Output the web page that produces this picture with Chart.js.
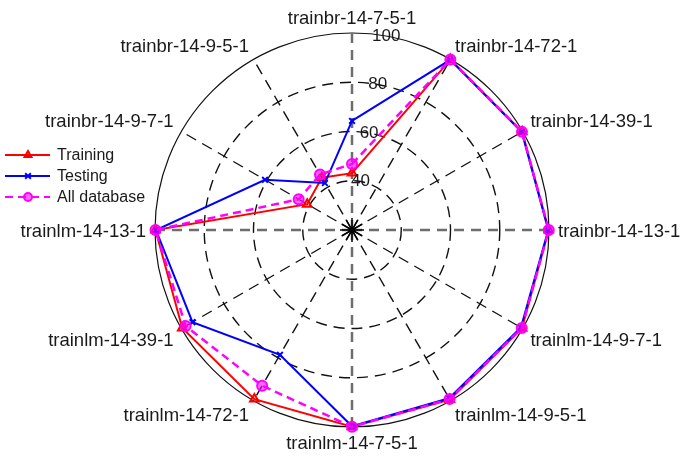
<!DOCTYPE html>
<html>
<head>
<meta charset="utf-8">
<script src="https://cdn.jsdelivr.net/npm/chart.js@4"></script>
<style>
  html, body { margin: 0; padding: 0; background: #fff; }
</style>
</head>
<body>
<canvas id="myChart" width="685" height="460"></canvas>
<script>
const ctx = document.getElementById("myChart");

// categorias, en sentido horario desde arriba
const etiquetas = [
  "trainbr-14-7-5-1", "trainbr-14-72-1", "trainbr-14-39-1", "trainbr-14-13-1",
  "trainlm-14-9-7-1", "trainlm-14-9-5-1", "trainlm-14-7-5-1", "trainlm-14-72-1",
  "trainlm-14-39-1", "trainlm-14-13-1", "trainbr-14-9-7-1", "trainbr-14-9-5-1",
];
const training = [43.1, 99.9, 99.8, 99.9, 99.7, 99.5, 99.9, 99.3, 99.6, 99.8, 41.0, 44.5];
const testing = [64.3, 99.8, 99.6, 99.7, 99.2, 98.9, 99.7, 78.5, 94.8, 99.6, 60.8, 42.0];
const allDatabase = [46.8, 99.9, 99.7, 99.9, 99.6, 99.3, 99.9, 93.0, 98.0, 99.8, 45.0, 46.0];
const ticksR = [40, 60, 80, 100];
const rMin = 20;
const rMax = 100;

const fuente = '"Liberation Sans", Arial, Helvetica, sans-serif';

// estrella negra del centro
const centroPlugin = {
  id: "centro",
  beforeDatasetsDraw(chart) {
    const r = chart.scales.r;
    const c = chart.ctx;
    c.save();
    c.strokeStyle = "#000";
    c.lineWidth = 1.5;
    for (let i = 0; i < 12; i++) {
      const a = (i * 30 * Math.PI) / 180;
      c.beginPath();
      c.moveTo(r.xCenter, r.yCenter);
      c.lineTo(r.xCenter + 12 * Math.sin(a), r.yCenter - 12 * Math.cos(a));
      c.stroke();
    }
    c.fillStyle = "#000";
    c.beginPath();
    c.arc(r.xCenter, r.yCenter, 3, 0, Math.PI * 2);
    c.fill();
    c.restore();
  },
};

// etiquetas de puntos, ticks y leyenda
const textosPlugin = {
  id: "textos",
  afterDraw(chart) {
    const r = chart.scales.r;
    const c = chart.ctx;
    c.save();
    c.fillStyle = "#1a1a1a";
    c.font = "18.5px " + fuente;
    c.textBaseline = "alphabetic";
    etiquetas.forEach((txt, i) => {
      const p = r.getPointPosition(i, r.drawingArea + 9);
      const ang = Math.round((i * 360) / etiquetas.length);
      let align = "center";
      if (ang > 0 && ang < 180) align = "left";
      if (ang > 180) align = "right";
      let y = p.y;
      if (ang === 90 || ang === 270) y += 6.5;
      else if (ang > 90 && ang < 270) y += 13;
      c.textAlign = align;
      c.fillText(txt, p.x, y);
    });

    // valores radiales, un poco girados como en matlab
    c.font = "17px " + fuente;
    c.textAlign = "center";
    c.textBaseline = "middle";
    const giro = (10 * Math.PI) / 180;
    ticksR.forEach((v) => {
      const d = r.getDistanceFromCenterForValue(v);
      c.fillText(String(v), r.xCenter + d * Math.sin(giro), r.yCenter - d * Math.cos(giro));
    });

    // leyenda
    c.font = "16px " + fuente;
    c.textAlign = "left";
    chart.data.datasets.forEach((ds, i) => {
      const y = 155 + i * 21;
      c.strokeStyle = ds.borderColor;
      c.lineWidth = 2;
      c.setLineDash(ds.borderDash || []);
      c.beginPath();
      c.moveTo(5, y);
      c.lineTo(50, y);
      c.stroke();
      c.setLineDash([]);
      c.fillStyle = ds.pointBackgroundColor;
      c.strokeStyle = ds.borderColor;
      Chart.helpers.drawPoint(c, {
        pointStyle: ds.pointStyle,
        radius: 4,
        rotation: 0,
        borderWidth: 2,
      }, 28, y);
      c.fillStyle = "#1a1a1a";
      c.fillText(ds.label, 57, y + 1);
    });
    c.restore();
  },
};

new Chart(ctx, {
  type: "radar",
  data: {
    labels: etiquetas,
    datasets: [
      {
        label: "Training",
        data: training,
        borderColor: "#ff0000",
        backgroundColor: "rgba(0,0,0,0)",
        pointBackgroundColor: "rgba(255,0,0,0.15)",
        pointBorderColor: "#ff0000",
        pointStyle: "triangle",
        pointRadius: 5,
        pointBorderWidth: 2,
        borderWidth: 2,
        fill: false,
        clip: false,
        order: 2,
      },
      {
        label: "Testing",
        data: testing,
        borderColor: "#0000ff",
        backgroundColor: "rgba(0,0,0,0)",
        pointBackgroundColor: "#0000ff",
        pointBorderColor: "#0000ff",
        pointStyle: "crossRot",
        pointRadius: 4,
        pointBorderWidth: 2,
        borderWidth: 2,
        fill: false,
        clip: false,
        order: 1,
      },
      {
        label: "All database",
        data: allDatabase,
        borderColor: "#ff00ff",
        backgroundColor: "rgba(0,0,0,0)",
        pointBackgroundColor: "rgba(255,0,255,0.6)",
        pointBorderColor: "#ff00ff",
        pointStyle: "circle",
        pointRadius: 5,
        pointBorderWidth: 2,
        borderWidth: 2.5,
        borderDash: [8, 5],
        fill: false,
        clip: false,
        order: 0,
      },
    ],
  },
  options: {
    responsive: false,
    animation: false,
    layout: {
      padding: { left: 155, right: 136, top: 33, bottom: 33 },
    },
    elements: {
      line: { tension: 0 },
    },
    plugins: {
      legend: { display: false },
      tooltip: { enabled: false },
    },
    scales: {
      r: {
        min: rMin,
        max: rMax,
        ticks: { display: false, stepSize: 20 },
        pointLabels: { display: false },
        grid: {
          circular: true,
          color: "#111",
          lineWidth: (c) => (c.tick && c.tick.value === rMax ? 1.2 : 1.4),
        },
        border: {
          dash: (c) => (c.tick && c.tick.value === rMax ? [] : [11, 7]),
        },
        angleLines: {
          color: (c) => (c.index % 3 === 0 ? "#6e6e6e" : "#111"),
          lineWidth: (c) => (c.index % 3 === 0 ? 2.5 : 1.4),
          borderDash: (c) => (c.index % 3 === 0 ? [10, 7] : [11, 7]),
        },
      },
    },
  },
  plugins: [centroPlugin, textosPlugin],
});
</script>
</body>
</html>
